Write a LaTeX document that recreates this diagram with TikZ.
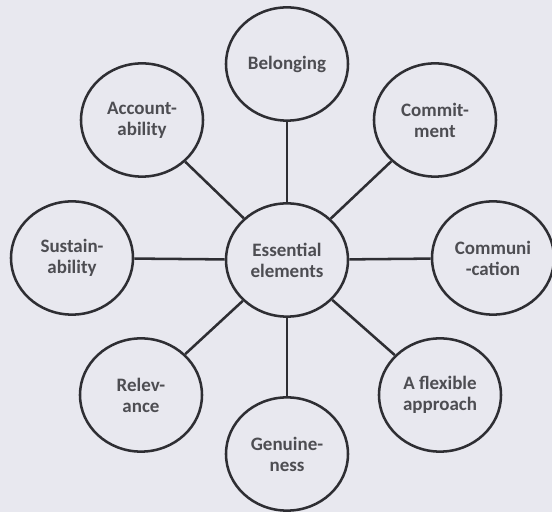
\documentclass[tikz,border=0pt]{standalone}
\usepackage{fontspec}
\setmainfont{Carlito}
\usetikzlibrary{shapes.geometric}
\definecolor{PaperGrey}{HTML}{E8E8EF}
\definecolor{InkGrey}{HTML}{2E2E33}
\tikzset{
    elem/.style = {draw=InkGrey, ellipse, line width=1.8pt,
        minimum width=3.05cm, minimum height=2.83cm, inner sep=0pt,
        align=center, text=InkGrey!85,
        font=\fontsize{13.5}{15}\selectfont\bfseries},
    spoke/.style = {draw=InkGrey, line width=1.8pt}
}
\begin{document}
\begin{tikzpicture}[x=0.025cm,y=0.025cm]
            \fill[PaperGrey] (0,0) rectangle (552,512);
            \useasboundingbox (0,0) rectangle (552,512);
            \node[elem] (ctr) at (287,252) {Essential\\elements};
            \node[elem] (bel) at (287,448) {Belonging};
            \node[elem] (com) at (435,392) {Commit-\\ment};
            \node[elem] (cmm) at (493,254) {Communi\\-cation};
            \node[elem] (flx) at (440,117) {A flexible\\approach};
            \node[elem] (gen) at (287,58) {Genuine-\\ness};
            \node[elem] (rel) at (141,117) {Relev-\\ance};
            \node[elem] (sus) at (72,254) {Sustain-\\ability};
            \node[elem] (acc) at (142,392) {Account-\\ability};
            % spokes from the centre
            \foreach \n in {bel,com,cmm,flx,gen,rel,sus,acc}
                \draw[spoke] (ctr) -- (\n);
\end{tikzpicture}
\end{document}
